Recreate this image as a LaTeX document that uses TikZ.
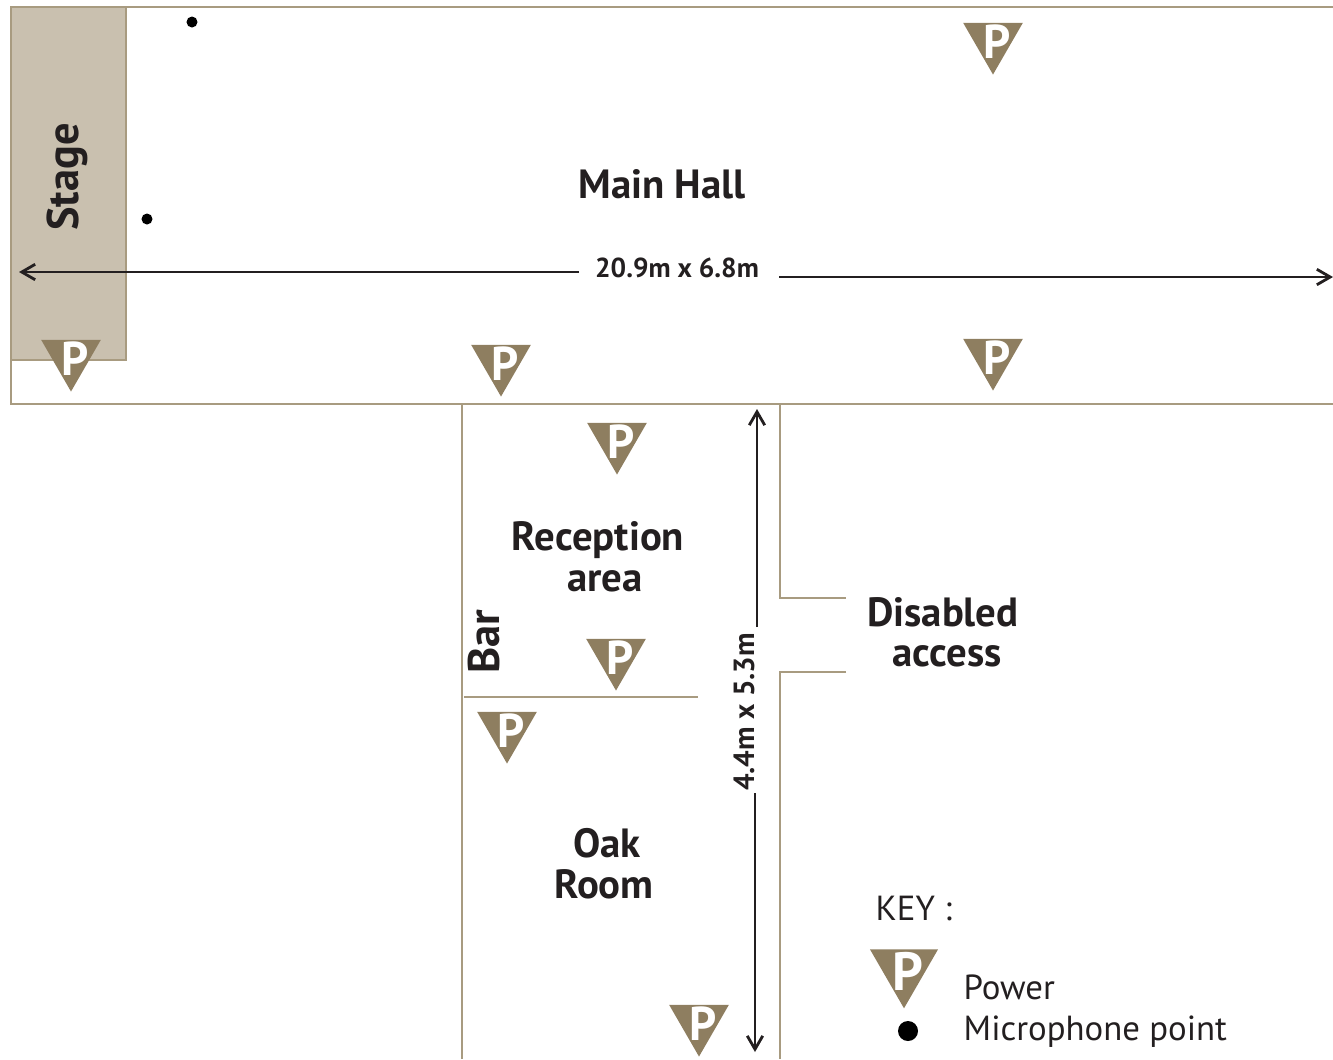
\documentclass[tikz,border=0pt]{standalone}
\usepackage{fontspec}
\setmainfont{PT Sans}
\usetikzlibrary{shapes.geometric,arrows.meta}
\definecolor{wallcol}{HTML}{A89B80}
\definecolor{stagecol}{HTML}{C9C0AF}
\definecolor{powercol}{HTML}{8E7E60}
\definecolor{inkcol}{HTML}{231F20}
\newcommand{\pletter}{\makebox[0pt]{\hspace{2.3pt}\raisebox{-0.39em}[0pt][0pt]{P}}}
\tikzset{
	wall/.style={draw=wallcol,line width=0.3pt},
	dimline/.style={draw=inkcol,line width=0.8pt,->,>={Straight Barb[length=3.8pt,width=4.4pt]}},
	room/.style={text=inkcol,font=\fontsize{11.6}{13}\selectfont\bfseries,inner sep=0pt},
	sideroom/.style={room,rotate=90,font=\fontsize{12.6}{13}\selectfont\bfseries},
	dim/.style={text=inkcol,font=\fontsize{7.8}{10}\selectfont\bfseries,inner sep=0pt},
	sidedim/.style={dim,rotate=90,font=\fontsize{8.3}{10}\selectfont\bfseries},
	keytext/.style={text=inkcol,font=\fontsize{9.9}{12}\selectfont,inner sep=0pt,anchor=west},
	power/.style={regular polygon,regular polygon sides=3,shape border rotate=180,fill=powercol,text=white,
		font=\fontsize{13.5}{14}\selectfont\bfseries,inner sep=0pt,outer sep=0pt,minimum size=0.69cm},
	bigpower/.style={power,minimum size=0.785cm,font=\fontsize{15.3}{16}\selectfont\bfseries},
	mic/.style={circle,fill=black,inner sep=0pt,minimum size=0.11cm},
	bigmic/.style={mic,minimum size=0.2cm}
}
\begin{document}
\begin{tikzpicture}[x=0.01cm,y=-0.01cm]
		\useasboundingbox (0,0) rectangle (1333,1059);
		
		\draw[wall,fill=stagecol] (11,7) rectangle (126,360);
		\draw[wall] (1333,7) -- (11,7) -- (11,404) -- (1333,404);
		\draw[wall] (462,404) -- (462,1059);
		\draw[wall] (780,404) -- (780,598) -- (846,598);
		\draw[wall] (846,672) -- (780,672) -- (780,1059);
		\draw[wall] (464,697) -- (698,697);
		
		\node[power] (p1) at (993,40) {\pletter};
		\node[power] (p2) at (71,357) {\pletter};
		\node[power] (p3) at (501,362) {\pletter};
		\node[power] (p4) at (993,356) {\pletter};
		\node[power] (p5) at (617,440) {\pletter};
		\node[power] (p6) at (616,656) {\pletter};
		\node[power] (p7) at (507,729) {\pletter};
		\node[power] (p8) at (699,1022) {\pletter};
		
		\node[mic] (m1) at (192,22) {};
		\node[mic] (m2) at (147,219) {};
		
		\node[room] (hall) at (662,184) {Main Hall};
		\node[sideroom] (stage) at (67,177) {Stage};
		\node[room] (recep) at (598,540) {Reception};
		\node[room] (recepb) at (605,581) {area};
		\node[sideroom] (bar) at (484,642) {Bar};
		\node[room] (oak) at (607,843) {Oak};
		\node[room] (oakb) at (604,884) {Room};
		\node[room] (dis) at (943,612) {Disabled};
		\node[room] (disb) at (947,656) {access};
		
		\node[dim] (hallsize) at (677,268) {20.9m x 6.8m};
		\node[sidedim] (oaksize) at (744,712) {4.4m x 5.3m};
		
		\coordinate (ha) at (579,272);
		\coordinate (hb) at (19,272);
		\coordinate (hc) at (779,277);
		\coordinate (hd) at (1333,277);
		\coordinate (va) at (757,627);
		\coordinate (vb) at (757,409);
		\coordinate (vc) at (755,793);
		\coordinate (vd) at (755,1052);
		\draw[dimline] (ha) -- (hb);
		\draw[dimline] (hc) -- (hd);
		\draw[dimline] (va) -- (vb);
		\draw[dimline] (vc) -- (vd);
		
		\node[keytext] (key) at (875,908) {KEY :};
		\node[bigpower] (kp) at (904,969) {\pletter};
		\node[keytext] (kpt) at (963,987) {Power};
		\node[bigmic] (km) at (908,1031) {};
		\node[keytext] (kmt) at (963,1032) {Microphone point};
\end{tikzpicture}
\end{document}
